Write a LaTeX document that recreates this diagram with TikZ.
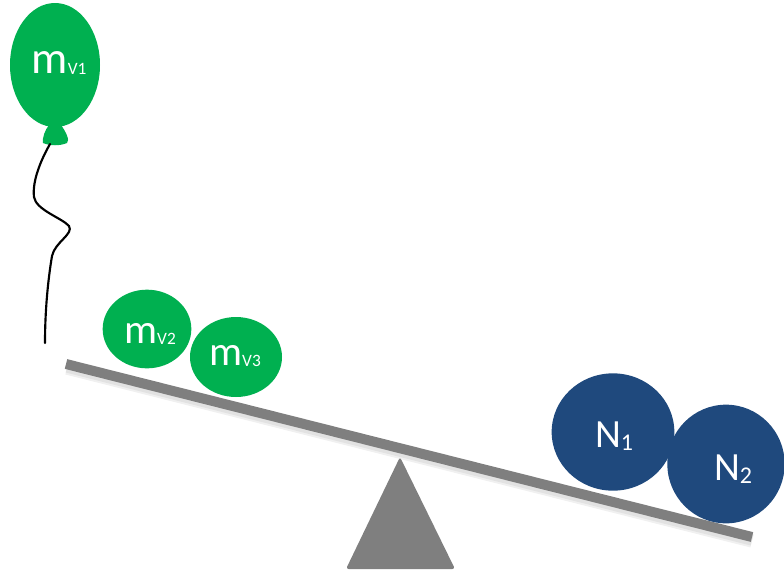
\documentclass[tikz,border=0pt]{standalone}
\usepackage{fontspec}
\setmainfont{Carlito}
\usetikzlibrary{shapes.geometric}
\definecolor{balloongreen}{HTML}{00B050}
\definecolor{massblue}{HTML}{1F497D}
\definecolor{beamgray}{HTML}{7F7F7F}
\newcommand{\msub}[3]{{\fontsize{#1}{#1}\selectfont m}{\raisebox{-1pt}{\fontsize{#2}{#2}\selectfont V#3}}}
\newcommand{\nsub}[1]{{\fontsize{30}{30}\selectfont N}{\raisebox{-2pt}{\fontsize{18}{18}\selectfont #1}}}
\begin{document}
\begin{tikzpicture}[x=0.75pt,y=-0.75pt,
  mass/.style={ellipse,inner sep=0pt},
  greenmass/.style={mass,fill=balloongreen},
  bluemass/.style={mass,fill=massblue},
  masslabel/.style={text=white,inner sep=0pt,anchor=center},
  beam/.style={line width=7.5pt,draw=beamgray},
]
\useasboundingbox (0,0) rectangle (784,579);

% seesaw beam with a soft shadow
\draw[line width=10pt,draw=black,opacity=0.06] (67,368) -- (752,541);
\draw[line width=8.5pt,draw=black,opacity=0.06] (67,367) -- (752,540);
\draw[beam] (66,364) -- (752,537);

% pivot
\fill[beamgray,rounded corners=2pt] (400,457) -- (455,569) -- (346,569) -- cycle;
\node[inner sep=0pt] (pivot) at (400,530) {};

% balloon with knot and string
\node[greenmass,minimum width=67.5pt,minimum height=93pt] (v1) at (55,65) {};
\fill[balloongreen] (49,125) -- (61,125) .. controls (66,132) and (70,140) .. (67,143)
  .. controls (60,146) and (50,146) .. (43,143) .. controls (42,138) and (45,130) .. (49,125) -- cycle;
\coordinate (knot) at (50,144);
\coordinate (strend) at (45,343);
\draw[line width=1.6pt,line cap=round] (knot) .. controls (42,158) and (32,180) .. (34,197)
  .. controls (36,210) and (62,218) .. (69,226)
  .. controls (74,234) and (55,242) .. (52,256)
  .. controls (48,280) and (45,310) .. (strend);
\node[masslabel] (v1t) at (59,63) {\msub{34}{13}{1}};

% small masses on the left arm
\node[greenmass,minimum width=66.5pt,minimum height=59pt] (v2) at (147,329) {};
\node[greenmass,minimum width=69pt,minimum height=60pt] (v3) at (236,357) {};
\node[masslabel] (v2t) at (150,334) {\msub{31}{13}{2}};
\node[masslabel] (v3t) at (235,356) {\msub{31}{13}{3}};

% large masses on the right arm
\node[bluemass,minimum width=92pt,minimum height=88pt] (n1) at (613,432) {};
\node[bluemass,minimum width=88pt,minimum height=89pt] (n2) at (726,464) {};
\node[masslabel] (n1t) at (614,436) {\nsub{1}};
\node[masslabel] (n2t) at (733,469) {\nsub{2}};
\end{tikzpicture}
\end{document}
